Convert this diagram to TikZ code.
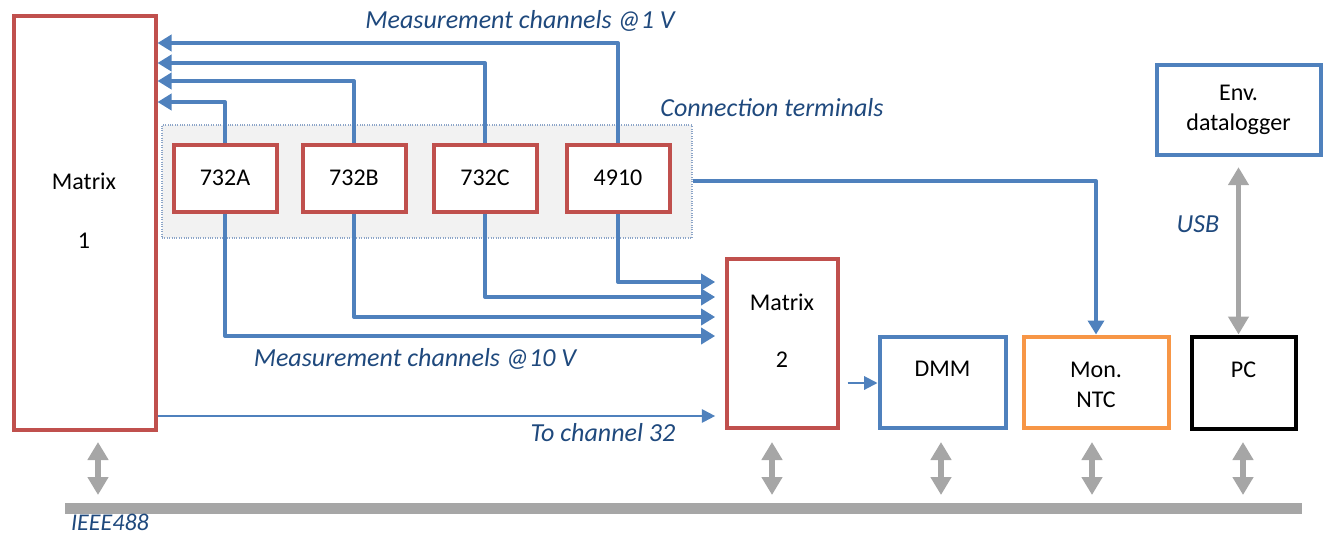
\documentclass[tikz,border=0pt]{standalone}
\usepackage{fontspec}
\setmainfont{Carlito}
\usetikzlibrary{arrows.meta}
\definecolor{cred}{RGB}{192,80,77}
\definecolor{cblue}{RGB}{79,129,189}
\definecolor{corange}{RGB}{247,150,70}
\definecolor{cgray}{RGB}{166,166,166}
\definecolor{clabel}{RGB}{31,73,125}
\definecolor{cterm}{RGB}{242,242,242}
\definecolor{ctermb}{RGB}{140,165,200}
\begin{document}
\begin{tikzpicture}[x=0.75pt,y=-0.75pt,
  box/.style={draw, line width=3pt, fill=white, inner sep=0pt},
  redbox/.style={box, draw=cred},
  bluebox/.style={box, draw=cblue},
  txt/.style={font=\fontsize{18}{23}\selectfont, text=black, inner sep=0pt, align=center},
  lbl/.style={font=\fontsize{19.5}{23}\selectfont\itshape, text=clabel, inner sep=0pt},
  conn/.style={draw=cblue, line width=3pt, line join=round, -{Triangle[length=10.5pt,width=12pt]}},
  thinconn/.style={draw=cblue, line width=1.5pt, -{Triangle[length=10pt,width=10pt]}},
  busarrow/.style={draw=cgray, line width=4pt, {Triangle[length=13.5pt,width=15pt]}-{Triangle[length=13.5pt,width=15pt]}}
]
\useasboundingbox (0,0) rectangle (1325,533);

% connection terminals area
\node[draw=ctermb, densely dotted, line width=0.8pt, fill=cterm, minimum width=397.5pt, minimum height=84.75pt, inner sep=0pt] (term) at (427,181.5) {};

% main boxes
\node[redbox, minimum width=106.5pt, minimum height=310.5pt] (m1) at (84.5,222.5) {};
\node[txt] (m1a) at (84,181) {Matrix};
\node[txt] (m1b) at (84,241) {1};

\node[redbox, minimum width=77.25pt, minimum height=50.25pt] (ta) at (225,178) {};
\node[txt] (tat) at (ta) {732A};
\node[redbox, minimum width=77.25pt, minimum height=50.25pt] (tb) at (354,178) {};
\node[txt] (tbt) at (tb) {732B};
\node[redbox, minimum width=77.25pt, minimum height=50.25pt] (tc) at (485,178) {};
\node[txt] (tct) at (tc) {732C};
\node[redbox, minimum width=77.25pt, minimum height=50.25pt] (td) at (618,178) {};
\node[txt] (tdt) at (td) {4910};

\node[redbox, minimum width=83.25pt, minimum height=126.75pt] (m2) at (782,343) {};
\node[txt] (m2a) at (782,302) {Matrix};
\node[txt] (m2b) at (782,360) {2};

\node[bluebox, minimum width=94.5pt, minimum height=68.25pt] (dmm) at (942.5,382) {};
\node[txt] (dmmt) at (942.5,369) {DMM};

\node[box, draw=corange, minimum width=108.75pt, minimum height=68.25pt] (ntc) at (1096,382) {};
\node[txt] (ntct) at (1096,385) {Mon.\\NTC};

\node[box, draw=black, minimum width=78pt, minimum height=69pt] (pc) at (1243.5,382.5) {};
\node[txt] (pct) at (1243.5,370) {PC};

\node[bluebox, minimum width=123pt, minimum height=67.5pt] (env) at (1238.5,109.5) {};
\node[txt] (envt) at (1238.5,110) {Env.\\datalogger};

% bus
\node[fill=cgray, minimum width=927.75pt, minimum height=8.25pt, inner sep=0pt] (bus) at (683.5,508.5) {};

% helper coordinates
\coordinate (ya) at (0,102);
\coordinate (yb) at (0,81);
\coordinate (yc) at (0,63);
\coordinate (yd) at (0,43);
\coordinate (za) at (0,336);
\coordinate (zb) at (0,317);
\coordinate (zc) at (0,297);
\coordinate (zd) at (0,282);
\coordinate (ych) at (0,416);
\coordinate (ydmm) at (0,383);

% 1 V channels to Matrix 1
\draw[conn] (ta.north) |- (m1.east |- ya);
\draw[conn] (tb.north) |- (m1.east |- yb);
\draw[conn] (tc.north) |- (m1.east |- yc);
\draw[conn] (td.north) |- (m1.east |- yd);

% 10 V channels to Matrix 2
\draw[conn, shorten >=7pt] (ta.south) |- (m2.west |- za);
\draw[conn, shorten >=7pt] (tb.south) |- (m2.west |- zb);
\draw[conn, shorten >=7pt] (tc.south) |- (m2.west |- zc);
\draw[conn, shorten >=7pt] (td.south) |- (m2.west |- zd);

% 4910 to NTC
\draw[conn] (term.east |- 0,181) -| (ntc.north);

% to channel 32
\draw[thinconn, shorten >=7pt] (m1.east |- ych) -- (m2.west |- ych);

% Matrix 2 to DMM
\draw[thinconn, shorten <=6pt] (m2.east |- ydmm) -- (dmm.west |- ydmm);

% USB
\draw[busarrow, shorten <=8pt] (env.south) -- (env.south |- pc.north);

% bus arrows
\coordinate (b1t) at (98,442);  \coordinate (b1b) at (98,495);
\coordinate (b2t) at (772,442); \coordinate (b2b) at (772,495);
\coordinate (b3t) at (941,442); \coordinate (b3b) at (941,495);
\coordinate (b4t) at (1092,442); \coordinate (b4b) at (1092,495);
\coordinate (b5t) at (1243,442); \coordinate (b5b) at (1243,495);
\draw[busarrow] (b1t) -- (b1b);
\draw[busarrow] (b2t) -- (b2b);
\draw[busarrow] (b3t) -- (b3b);
\draw[busarrow] (b4t) -- (b4b);
\draw[busarrow] (b5t) -- (b5b);

% labels
\node[lbl] (l1) at (520,21) {Measurement channels @1 V};
\node[lbl] (l2) at (772,108) {Connection terminals};
\node[lbl] (l3) at (415,359) {Measurement channels @10 V};
\node[lbl] (l4) at (603,433) {To channel 32};
\node[lbl] (l5) at (1198,224) {USB};
\node[lbl, font=\fontsize{18}{22}\selectfont\itshape] (l6) at (110,522) {IEEE488};
\end{tikzpicture}
\end{document}
